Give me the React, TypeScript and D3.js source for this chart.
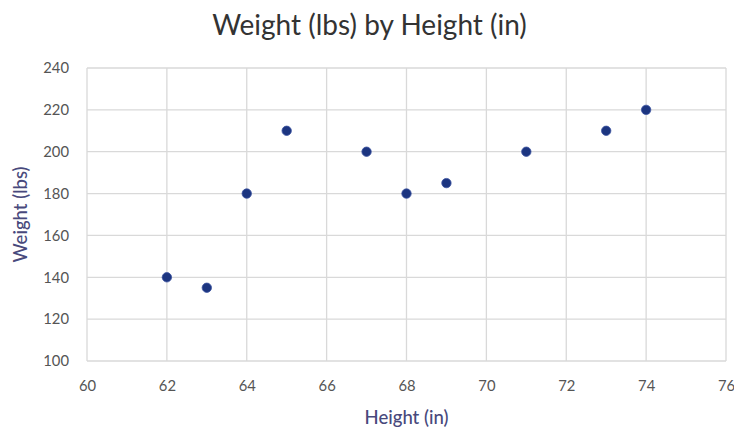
import { useRef, useEffect } from 'react';
import * as d3 from 'd3';

const heights = [62, 63, 64, 65, 67, 68, 69, 71, 73, 74];
const weights = [140, 135, 180, 210, 200, 180, 185, 200, 210, 220];
const xTicks = [60, 62, 64, 66, 68, 70, 72, 74, 76];
const yTicks = [100, 120, 140, 160, 180, 200, 220, 240];

const title = 'Weight (lbs) by Height (in)';
const xTitle = 'Height (in)';
const yTitle = 'Weight (lbs)';

const width = 734;
const height = 429;
const marginTop = 68;
const marginRight = 8;
const marginBottom = 68;
const marginLeft = 87;

const font = 'Lato, "Open Sans", sans-serif';

export default function App() {
  const gx = useRef<SVGGElement>(null);
  const gy = useRef<SVGGElement>(null);

  const x = d3.scaleLinear([60, 76], [marginLeft, width - marginRight]);
  const y = d3.scaleLinear([100, 240], [height - marginBottom, marginTop]);

  useEffect(() => {
    const g = d3.select(gx.current);
    g.selectAll('*').remove();
    g.call(d3.axisBottom(x).tickValues(xTicks).tickSize(0).tickPadding(19));
    g.select('.domain').remove();
    g.selectAll('text')
      .attr('fill', '#555555')
      .style('font-family', font)
      .style('font-size', '14.8px');
  }, []);

  useEffect(() => {
    const g = d3.select(gy.current);
    g.selectAll('*').remove();
    g.call(d3.axisLeft(y).tickValues(yTicks).tickSize(0).tickPadding(18));
    g.select('.domain').remove();
    g.selectAll('text')
      .attr('fill', '#555555')
      .style('font-family', font)
      .style('font-size', '14.8px');
  }, []);

  const [x0, x1] = x.range();
  const [y0, y1] = y.range();

  return (
    <svg
      width={width}
      height={height}
      style={{ position: 'absolute', left: 0, top: 0, background: '#fff' }}
    >
      <rect width={width} height={height} fill="#fff" />
      <text
        x={(x0 + x1) / 2 - 37}
        y={35}
        textAnchor="middle"
        fill="#333333"
        style={{ fontFamily: font, fontSize: '28px' }}
      >
        {title}
      </text>
      <g stroke="#d9d9d9" strokeWidth={1.3}>
        {xTicks.map((t) => (
          <line key={'x' + t} x1={x(t)} x2={x(t)} y1={y1} y2={y0} />
        ))}
        {yTicks.map((t) => (
          <line key={'y' + t} x1={x0} x2={x1} y1={y(t)} y2={y(t)} />
        ))}
      </g>
      <g ref={gx} transform={`translate(0,${y0})`} />
      <g ref={gy} transform={`translate(${x0},0)`} />
      <g>
        {heights.map((h, i) => (
          <circle
            key={i}
            cx={x(h)}
            cy={y(weights[i])}
            r={4.7}
            fill="#1c3580"
            stroke="#3a52a0"
            strokeWidth={0.8}
          />
        ))}
      </g>
      <text
        x={(x0 + x1) / 2}
        y={424}
        textAnchor="middle"
        fill="#48497c"
        style={{ fontFamily: font, fontSize: '18.5px', fontWeight: 500 }}
      >
        {xTitle}
      </text>
      <text
        transform={`translate(27,${(y0 + y1) / 2}) rotate(-90)`}
        textAnchor="middle"
        fill="#48497c"
        style={{ fontFamily: font, fontSize: '18.5px', fontWeight: 500 }}
      >
        {yTitle}
      </text>
    </svg>
  );
}
